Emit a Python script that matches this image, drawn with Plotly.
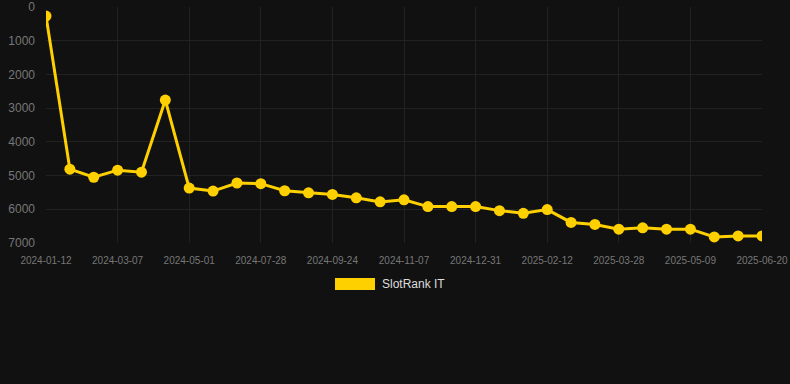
import plotly.graph_objects as go

dates = ["2024-01-12", "2024-01-30", "2024-02-18", "2024-03-07", "2024-03-25", "2024-04-13",
         "2024-05-01", "2024-05-30", "2024-06-29", "2024-07-28", "2024-08-17", "2024-09-05",
         "2024-09-24", "2024-10-09", "2024-10-23", "2024-11-07", "2024-11-25", "2024-12-13",
         "2024-12-31", "2025-01-14", "2025-01-28", "2025-02-12", "2025-02-26", "2025-03-13",
         "2025-03-28", "2025-04-11", "2025-04-25", "2025-05-09", "2025-05-23", "2025-06-06",
         "2025-06-20"]
rank = [270, 4810, 5050, 4840, 4900, 2760, 5370, 5460, 5220, 5240, 5450, 5510, 5560, 5660,
        5780, 5720, 5920, 5920, 5920, 6040, 6120, 6010, 6390, 6450, 6590, 6550, 6590, 6590,
        6820, 6790, 6790]
tick_labels = dates[::3]
y_ticks = [0, 1000, 2000, 3000, 4000, 5000, 6000, 7000]
series_name = "SlotRank IT"
color = "#FFD000"

fig = go.Figure()
fig.add_trace(go.Scatter(
    x=dates, y=rank, mode="lines+markers", name=series_name,
    line=dict(color=color, width=3),
    marker=dict(color=color, size=11),
    showlegend=False,
))

fig.update_layout(
    width=790, height=384,
    paper_bgcolor="#111111", plot_bgcolor="#111111",
    margin=dict(l=46, r=28, t=7, b=141),
    font=dict(family="Liberation Sans, Arial, sans-serif", color="#777777"),
    xaxis=dict(
        type="category", range=[0, len(dates) - 1], automargin=False,
        tickmode="array", tickvals=tick_labels, ticktext=tick_labels,
        tickfont=dict(size=10, color="#777777"),
        showgrid=True, gridcolor="#222222", gridwidth=1,
        zeroline=False, showline=False, ticks="", ticklabelstandoff=10,
    ),
    yaxis=dict(
        range=[7000, 0], tickmode="array", tickvals=y_ticks, automargin=False,
        tickfont=dict(size=12, color="#777777"),
        showgrid=True, gridcolor="#222222", gridwidth=1,
        zeroline=False, showline=False, ticks="", ticklabelstandoff=10,
    ),
    shapes=[dict(type="rect", xref="paper", yref="paper",
                 x0=(335 - 46) / 716, x1=(375 - 46) / 716,
                 y0=(243 - 290) / 236, y1=(243 - 278) / 236,
                 fillcolor=color, line=dict(width=0))],
    annotations=[dict(text=series_name, xref="paper", yref="paper",
                      x=(380 - 46) / 716, y=(243 - 284) / 236,
                      xanchor="left", yanchor="middle", showarrow=False,
                      font=dict(size=12, color="#dddddd"))],
)

fig.write_html("out.html", config={"displayModeBar": False},
               post_script="document.body.style.margin='0';document.body.style.background='#111111';")
